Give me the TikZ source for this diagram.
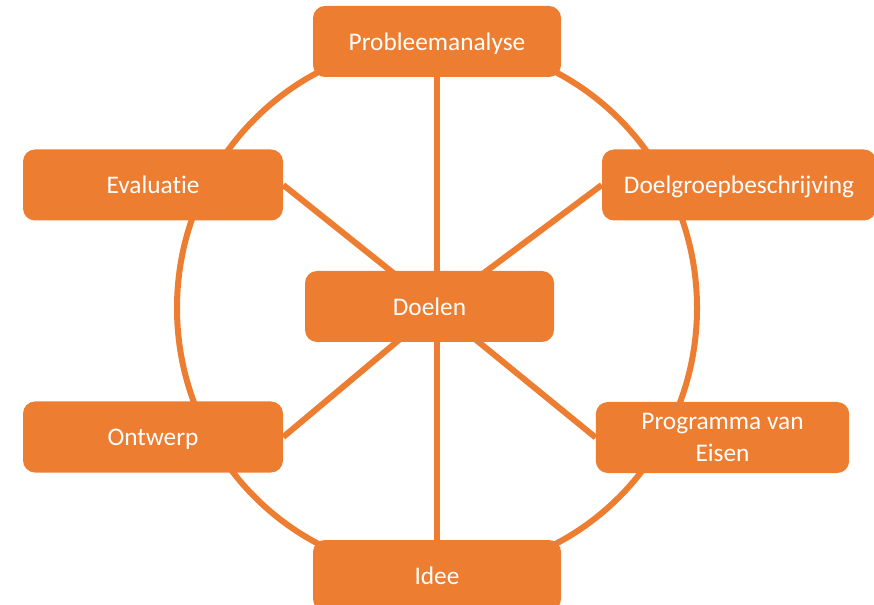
\documentclass[tikz,border=0pt]{standalone}
\usepackage{fontspec}
\setmainfont{Carlito}[Ligatures=NoCommon]
\usetikzlibrary{backgrounds}

\definecolor{phaseorange}{RGB}{237,125,49}

\tikzset{
    phasebox/.style={fill=phaseorange, draw=none, rounded corners=9pt, text=white,
        inner sep=0pt, minimum height=53.25pt, align=center, text depth=0pt,
        font=\fontsize{19}{24}\selectfont},
    cycleline/.style={draw=phaseorange, line width=4.5pt},
}

\begin{document}
\begin{tikzpicture}[x=0.75pt, y=-0.75pt]
    \useasboundingbox (0,0) rectangle (874,605);

    % centre of the cycle
    \coordinate (C) at (437,308);

    % phases
    \node[phasebox, minimum width=186pt] (probleem) at (437,41.5) {Probleemanalyse};
    \node[phasebox, minimum width=195pt] (evaluatie) at (153,185) {Evaluatie};
    \node[phasebox, minimum width=205.5pt] (doelgroep) at (739,185) {Doelgroepbeschrijving};
    \node[phasebox, minimum width=186.75pt] (doelen) at (429.5,306.5) {Doelen};
    \node[phasebox, minimum width=195pt] (ontwerp) at (153,437) {Ontwerp};
    \node[phasebox, minimum width=190pt] (pve) at (722.5,437.5) {Programma van\\Eisen};
    \node[phasebox, minimum width=186pt] (idee) at (437,575.5) {Idee};

    % ring and spokes behind the boxes
    \begin{scope}[on background layer]
        \draw[cycleline] (C) ellipse [x radius=195pt, y radius=198.75pt];
        \draw[cycleline] (C) -- (probleem.south);
        \draw[cycleline] (C) -- (idee.north);
        \draw[cycleline] (C) -- (evaluatie.east);
        \draw[cycleline] (C) -- (doelgroep.west);
        \draw[cycleline] (C) -- (ontwerp.east);
        \draw[cycleline] (C) -- (pve.west);
    \end{scope}
\end{tikzpicture}
\end{document}
